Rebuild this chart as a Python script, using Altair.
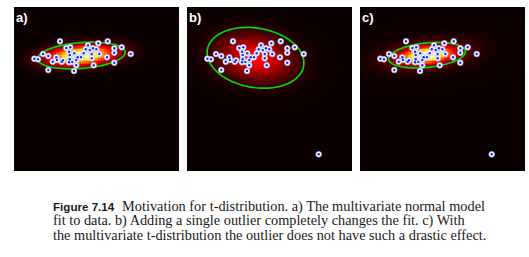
import altair as alt
import numpy as np
import pandas as pd

# ---- data (panel pixel units, y grows downward) ----
pts_x = [46.0, 93.7, 84.3, 74.0, 107.7, 52.3, 56.3, 71.7, 79.0, 82.3, 100.3, 75.7, 55.0,
         60.3, 69.7, 85.3, 77.7, 100.3, 116.7, 29.0, 34.3, 63.7, 77.7, 93.0, 20.3, 24.0,
         42.3, 47.7, 38.7, 55.7, 62.3, 55.0, 58.3, 62.3, 79.7, 100.3, 34.3, 60.0, 43.0,
         67.0, 55.7, 49.0]
pts_y = [34.3, 34.3, 36.3, 38.3, 40.3, 41.0, 40.3, 42.3, 41.3, 42.3, 41.3, 43.0, 44.7,
         46.3, 46.3, 47.0, 47.0, 45.7, 47.0, 47.0, 49.0, 50.3, 51.3, 50.3, 51.7, 52.3,
         50.3, 54.7, 54.7, 52.3, 53.0, 55.3, 55.0, 58.3, 58.3, 55.7, 63.0, 64.0, 53.0,
         50.3, 48.0, 53.3]
outlier_x = [131.7]
outlier_y = [147.3]

panel_labels = ["a)", "b)", "c)"]
# fitted model parameters per panel: mean x, mean y, sd x, sd y, correlation
fit_mx = [67.4, 68.5, 67.0]
fit_my = [48.5, 50.8, 48.2]
fit_sx = [21.9, 24.2, 19.2]
fit_sy = [6.65, 15.2, 6.4]
fit_rho = [-0.24, 0.17, -0.28]
fit_kind = ["normal", "normal", "t"]
t_nu = 4.0

caption_bold = "Figure 7.14"
caption_lines = [
    "Motivation for t-distribution. a) The multivariate normal model",
    "fit to data. b) Adding a single outlier completely changes the fit. c) With",
    "the multivariate t-distribution the outlier does not have such a drastic effect.",
]

W, H = 165, 164
NX, NY = 55, 55
BG = "#0b0000"


def density(X, Y, i):
    sx, sy, r = fit_sx[i], fit_sy[i], fit_rho[i]
    cov = np.array([[sx * sx, r * sx * sy], [r * sx * sy, sy * sy]])
    inv = np.linalg.inv(cov)
    dx, dy = X - fit_mx[i], Y - fit_my[i]
    q = inv[0, 0] * dx * dx + 2 * inv[0, 1] * dx * dy + inv[1, 1] * dy * dy
    norm = 1.0 / (2 * np.pi * np.sqrt(np.linalg.det(cov)))
    if fit_kind[i] == "t":
        return norm * (1 + q / t_nu) ** (-(t_nu + 2) / 2)
    return norm * np.exp(-q / 2)


def ellipse(i, k=2.0):
    sx, sy, r = fit_sx[i], fit_sy[i], fit_rho[i]
    cov = np.array([[sx * sx, r * sx * sy], [r * sx * sy, sy * sy]])
    L = np.linalg.cholesky(cov)
    t = np.linspace(0, 2 * np.pi, 121)
    c = np.vstack([np.cos(t), np.sin(t)])
    p = k * (L @ c)
    return pd.DataFrame({"x": fit_mx[i] + p[0], "y": fit_my[i] + p[1], "o": np.arange(len(t))})


peak_a = density(np.array(fit_mx[0]), np.array(fit_my[0]), 0)
vmax = float(peak_a) / 0.98

xe = np.linspace(0, W, NX + 1)
ye = np.linspace(0, H, NY + 1)
xc = (xe[:-1] + xe[1:]) / 2
yc = (ye[:-1] + ye[1:]) / 2
XI, YI = np.meshgrid(np.arange(NX), np.arange(NY))
ov = 1.0  # overlap between neighbouring cells to hide seams

xs = alt.Scale(domain=[0, W], nice=False, zero=False)
ys = alt.Scale(domain=[0, H], nice=False, zero=False, reverse=True)
hot = alt.Scale(domain=[0, 0.365 * vmax, 0.746 * vmax, vmax],
                range=[BG, "#ff0000", "#ffff00", "#ffffff"],
                clamp=True, interpolate="rgb")

panels = []
for i in range(3):
    D = density(xc[XI], yc[YI], i)
    heat = pd.DataFrame({
        "x0": xe[XI.ravel()], "x1": xe[XI.ravel() + 1] + ov,
        "y0": ye[YI.ravel()], "y1": ye[YI.ravel() + 1] + ov,
        "v": D.ravel(),
    })
    hm = alt.Chart(heat).mark_rect(clip=True, strokeWidth=0).encode(
        x=alt.X("x0:Q", scale=xs, axis=None), x2="x1:Q",
        y=alt.Y("y0:Q", scale=ys, axis=None), y2="y1:Q",
        fill=alt.Fill("v:Q", scale=hot, legend=None),
    )
    el = alt.Chart(ellipse(i)).mark_line(color="#00d800", strokeWidth=1.7).encode(
        x=alt.X("x:Q", scale=xs, axis=None), y=alt.Y("y:Q", scale=ys, axis=None), order="o:Q"
    )
    px = list(pts_x) + (outlier_x if i > 0 else [])
    py = list(pts_y) + (outlier_y if i > 0 else [])
    pdf = pd.DataFrame({"x": px, "y": py})
    white = alt.Chart(pdf).mark_circle(size=32, color="white", opacity=1,
                                       stroke="#b4bce8", strokeWidth=0.7).encode(
        x=alt.X("x:Q", scale=xs, axis=None), y=alt.Y("y:Q", scale=ys, axis=None))
    blue = alt.Chart(pdf).mark_circle(size=6, color="#1428ff", opacity=1).encode(
        x=alt.X("x:Q", scale=xs, axis=None), y=alt.Y("y:Q", scale=ys, axis=None))
    lab = alt.Chart(pd.DataFrame({"t": [panel_labels[i]]})).mark_text(
        align="left", baseline="alphabetic", font="Liberation Sans", fontWeight="bold",
        fontSize=13, color="white").encode(x=alt.value(2), y=alt.value(14.5), text="t:N")
    panels.append(
        alt.layer(hm, el, white, blue, lab).properties(
            width=W, height=H, view=alt.ViewBackground(fill=BG, stroke=None)
        )
    )

row = alt.hconcat(*panels, spacing=8)

cy = alt.Y("line:Q", scale=alt.Scale(domain=[0, 2], range=[39.7, 68.5]), axis=None)
bold = alt.Chart(pd.DataFrame({"line": [0], "t": [caption_bold]})).mark_text(
    align="left", baseline="alphabetic", font="Liberation Sans", fontWeight="bold",
    fontSize=11.6, color="#1a1a1a").encode(x=alt.value(39), y=cy, text="t:N")
first = alt.Chart(pd.DataFrame({"line": [0], "t": [caption_lines[0]]})).mark_text(
    align="left", baseline="alphabetic", font="Liberation Serif",
    fontSize=14.35, color="#1a1a1a").encode(x=alt.value(108), y=cy, text="t:N")
rest = alt.Chart(pd.DataFrame({"line": [1, 2], "t": caption_lines[1:]})).mark_text(
    align="left", baseline="alphabetic", font="Liberation Serif",
    fontSize=14.3, color="#1a1a1a").encode(x=alt.value(39), y=cy, text="t:N")
caption = alt.layer(bold, first, rest).properties(width=510, height=80)

chart = alt.vconcat(row, caption, spacing=0).properties(
    padding={"left": 14, "top": 7, "right": 0, "bottom": 0}
).configure(background="white").configure_view(stroke=None)

chart.save("out.html", embed_options={"renderer": "svg", "actions": False})
